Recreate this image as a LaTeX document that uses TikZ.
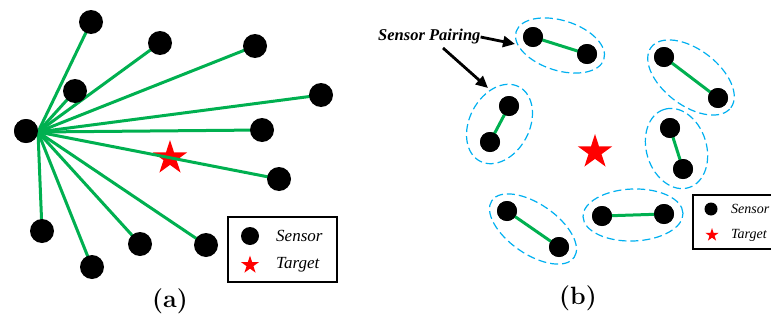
\documentclass[tikz,border=0pt]{standalone}
\usepackage{fontspec}
\newfontfamily\tnr{Liberation Serif}
\usetikzlibrary{shapes.geometric,arrows.meta}
\definecolor{lgreen}{RGB}{0,176,80}
\definecolor{lblue}{RGB}{0,176,240}
\begin{document}
\begin{tikzpicture}[x=1pt,y=1pt,
 sensor/.style={circle,fill=black,inner sep=0pt,minimum size=24pt},
 sensorb/.style={circle,fill=black,inner sep=0pt,minimum size=20pt},
 target/.style={star,star points=5,star point ratio=2.618,fill=red,inner sep=0pt,minimum size=#1},
 target/.default=36pt,
 link/.style={draw=lgreen,line width=3pt},
 pairell/.style={draw=lblue,line width=1.2pt,dash pattern=on 8pt off 4pt},
 legbox/.style={draw=black,line width=2pt,fill=white},
 legtext/.style={font=\fontsize{17}{20}\selectfont\tnr\itshape,anchor=west,inner sep=0pt},
 legtextb/.style={font=\fontsize{14}{17}\selectfont\tnr\itshape,anchor=west,inner sep=0pt},
 captext/.style={font=\fontsize{25}{28}\selectfont\bfseries,inner sep=0pt},
 pointer/.style={draw=black,line width=2.8pt,-{Triangle[length=12pt,width=11pt]}},
 ]
\useasboundingbox (0,0) rectangle (771,-324);
\clip (0,0) rectangle (771,-324);

% ---------- panel (a) ----------
\node[target] (ta) at (170,-158) {};
\node[sensor] (hub) at (26,-131) {};
\coordinate (o) at (38,-132);
\coordinate (s1) at (91,-22);
\coordinate (s2) at (160,-43);
\coordinate (s3) at (255,-46);
\coordinate (s4) at (75,-91);
\coordinate (s5) at (321,-95);
\coordinate (s6) at (262,-130);
\coordinate (s7) at (279,-179);
\coordinate (s8) at (42,-231);
\coordinate (s9) at (92,-267);
\coordinate (s10) at (140,-244);
\coordinate (s11) at (206,-245);
\foreach \i in {1,...,11} {
  \draw[link] (o) -- (s\i);
}
\foreach \i in {1,...,11} {
  \node[sensor] (n\i) at (s\i) {};
}
\node[sensor] at (hub) {};

% legend (a)
\node[legbox,minimum width=109pt,minimum height=65pt,inner sep=0pt] (lega) at (282.5,-249) {};
\node[circle,fill=black,inner sep=0pt,minimum size=18pt] (lda) at (250,-236) {};
\node[legtext] (lsa) at (276,-236) {Sensor};
\node[target=19pt] (lta) at (250,-265) {};
\node[legtext] (ltta) at (276,-265) {Target};

\node[captext] (capa) at (170,-301) {(a)};

% ---------- panel (b) ----------
\node[target] (tb) at (595,-152) {};

% pairs
\node[sensorb] (p1a) at (533,-37) {};
\node[sensorb] (p1b) at (587,-54) {};
\node[sensorb] (p2a) at (664,-57) {};
\node[sensorb] (p2b) at (718,-98) {};
\node[sensorb] (p3a) at (509,-106) {};
\node[sensorb] (p3b) at (490,-142) {};
\node[sensorb] (p4a) at (670,-128) {};
\node[sensorb] (p4b) at (683,-169) {};
\node[sensorb] (p5a) at (507,-211) {};
\node[sensorb] (p5b) at (559,-247) {};
\node[sensorb] (p6a) at (602,-216) {};
\node[sensorb] (p6b) at (664,-214) {};

\foreach \i in {1,...,6} {
  \draw[link] (p\i a.center) -- (p\i b.center);
}
\foreach \p in {p1a,p1b,p2a,p2b,p3a,p3b,p4a,p4b,p5a,p5b,p6a,p6b} {
  \node[sensorb] at (\p) {};
}

\draw[pairell,rotate around={-17.5:(560,-45.5)}] (560,-45.5) ellipse [x radius=46, y radius=25];
\draw[pairell,rotate around={-37.2:(691,-77.5)}] (691,-77.5) ellipse [x radius=50, y radius=28];
\draw[pairell,rotate around={62.2:(499.5,-124)}] (499.5,-124) ellipse [x radius=42, y radius=30];
\draw[pairell,rotate around={107.6:(676.5,-148.5)}] (676.5,-148.5) ellipse [x radius=41, y radius=30];
\draw[pairell,rotate around={-34.7:(533,-229)}] (533,-229) ellipse [x radius=50, y radius=25];
\draw[pairell,rotate around={2:(633,-215)}] (633,-215) ellipse [x radius=50, y radius=26];

% annotation
\node[font=\fontsize{16.5}{19}\selectfont\tnr\bfseries\itshape,anchor=west,inner sep=0pt] (sp) at (378,-37) {Sensor Pairing};
\coordinate (a1) at (515,-44);
\coordinate (a2s) at (443,-48);
\coordinate (a2e) at (488,-88);
\draw[pointer] (sp.east) -- (a1);
\draw[pointer] (a2s) -- (a2e);

% legend (b)
\node[legbox,minimum width=100pt,minimum height=54pt,inner sep=0pt,anchor=north west] (legb) at (692,-194) {};
\node[circle,fill=black,inner sep=0pt,minimum size=13pt] (ldb) at (711,-209) {};
\node[legtextb] (lsb) at (731,-209) {Sensor};
\node[target=14pt] (ltb) at (712,-235) {};
\node[legtextb] (lttb) at (731,-235) {Target};

\node[captext] (capb) at (578,-298) {(b)};
\end{tikzpicture}
\end{document}
